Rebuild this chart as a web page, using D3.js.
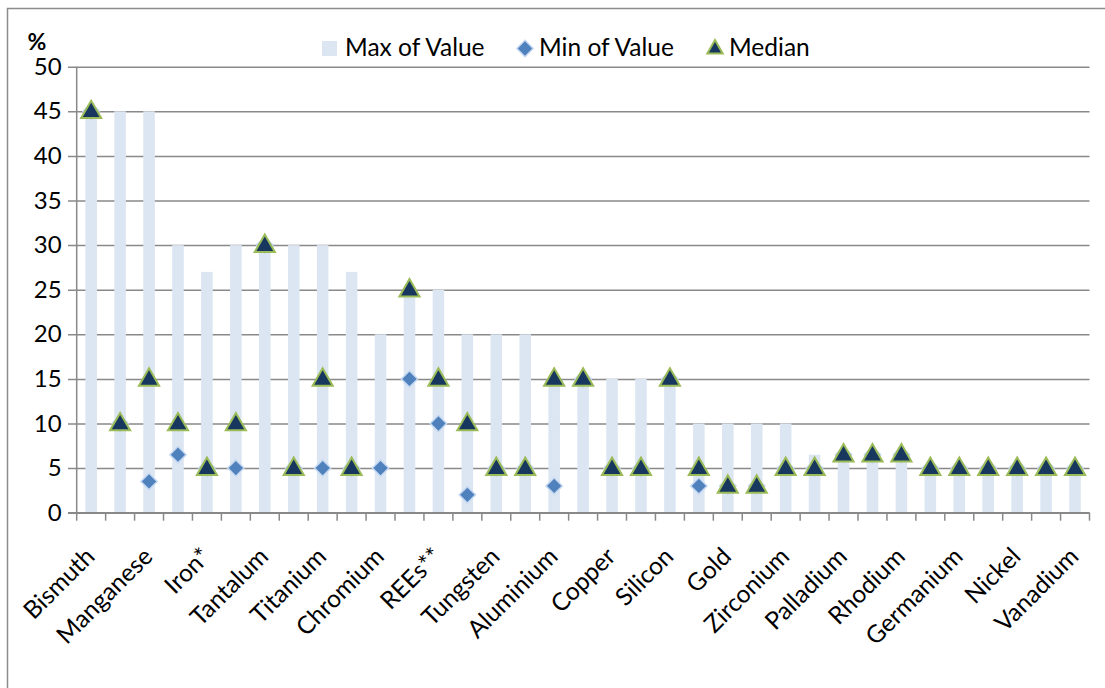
<!DOCTYPE html>
<html>
<head>
<meta charset="utf-8">
<script src="https://cdn.jsdelivr.net/npm/d3@7/dist/d3.min.js"></script>
<style>
  html, body { margin: 0; padding: 0; background: #ffffff; }
  svg { display: block; }
  text { font-family: Lato, "Liberation Sans", sans-serif; fill: #000; }
</style>
</head>
<body>
<svg id="chart" width="1105" height="688"></svg>
<script>
// Category labels (every other category carries a visible label)
const categories = [
  "Bismuth", "", "Manganese", "", "Iron*", "", "Tantalum", "", "Titanium", "",
  "Chromium", "", "REEs**", "", "Tungsten", "", "Aluminium", "", "Copper", "",
  "Silicon", "", "Gold", "", "Zirconium", "", "Palladium", "", "Rhodium", "",
  "Germanium", "", "Nickel", "", "Vanadium"
];

// Series values (%)
const maxValues = [
  45, 45, 45, 30, 27, 30, 30, 30, 30, 27,
  20, 25, 25, 20, 20, 20, 15, 15, 15, 15,
  15, 10, 10, 10, 10, 6.5, 6.5, 6.5, 6.5, 5,
  5, 5, 5, 5, 5
];
const minValues = [
  45, 10, 3.5, 6.5, 5, 5, 30, 5, 5, 5,
  5, 15, 10, 2, 5, 5, 3, 15, 5, 5,
  15, 3, 3, 3, 5, 5, 6.5, 6.5, 6.5, 5,
  5, 5, 5, 5, 5
];
const medianValues = [
  45, 10, 15, 10, 5, 10, 30, 5, 15, 5,
  null, 25, 15, 10, 5, 5, 15, 15, 5, 5,
  15, 5, 3, 3, 5, 5, 6.5, 6.5, 6.5, 5,
  5, 5, 5, 5, 5
];

const yTicks = [0, 5, 10, 15, 20, 25, 30, 35, 40, 45, 50];
const legendLabels = ["Max of Value", "Min of Value", "Median"];

const colors = {
  bar: "#dce6f2",
  diamond: "#4f81bd",
  diamondGlow: "#c6d9f1",
  triangle: "#17375e",
  triangleStroke: "#9bbb59",
  grid: "#898989",
  border: "#8c8c8c"
};

const svg = d3.select("#chart");
const plot = { left: 76.7, right: 1089.5, top: 66.7, bottom: 512.7 };

const idx = d3.range(categories.length);
const x = d3.scaleBand().domain(idx).range([plot.left, plot.right])
  .paddingInner(0.6).paddingOuter(0.3);
const y = d3.scaleLinear().domain([0, 50]).range([plot.bottom, plot.top]);
const step = x.step();
const cx = i => x(i) + x.bandwidth() / 2;

// Outer chart frame
svg.append("rect")
  .attr("x", 7.5).attr("y", 8.5)
  .attr("width", 1200).attr("height", 800)
  .attr("fill", "none").attr("stroke", colors.border).attr("stroke-width", 1.5);

// Y axis with gridlines
const yAxis = d3.axisLeft(y).tickValues(yTicks).tickSize(-(plot.right - plot.left)).tickPadding(15);
const gy = svg.append("g").attr("transform", `translate(${plot.left},0)`).call(yAxis);
gy.select(".domain").remove();
gy.selectAll(".tick line").attr("stroke", colors.grid).attr("stroke-width", 1.5).attr("x1", -8.7);
gy.selectAll(".tick text")
  .style("font-family", "Lato, sans-serif").style("font-size", "24px").attr("fill", "#000");

// Y axis line
svg.append("line")
  .attr("x1", plot.left).attr("x2", plot.left)
  .attr("y1", plot.top).attr("y2", plot.bottom)
  .attr("stroke", colors.grid).attr("stroke-width", 1.5);

// Unit label
svg.append("text")
  .attr("x", 37).attr("y", 50)
  .attr("text-anchor", "middle")
  .style("font-size", "23px").style("font-weight", "bold")
  .text("%");

// Max bars
svg.append("g").selectAll("rect").data(idx).join("rect")
  .attr("x", i => x(i)).attr("width", x.bandwidth())
  .attr("y", i => y(maxValues[i]))
  .attr("height", i => y(0) - y(maxValues[i]))
  .attr("fill", colors.bar);

// X axis line and boundary ticks
svg.append("line")
  .attr("x1", plot.left - 8.7).attr("x2", plot.right)
  .attr("y1", plot.bottom).attr("y2", plot.bottom)
  .attr("stroke", colors.grid).attr("stroke-width", 1.5);
svg.append("g").selectAll("line").data(d3.range(categories.length + 1)).join("line")
  .attr("x1", k => plot.left + k * step).attr("x2", k => plot.left + k * step)
  .attr("y1", plot.bottom).attr("y2", plot.bottom + 8)
  .attr("stroke", colors.grid).attr("stroke-width", 1.5);

// Category labels, rotated
svg.append("g").selectAll("text").data(idx.filter(i => categories[i] !== "")).join("text")
  .attr("transform", i => `translate(${cx(i) + 5},${558}) rotate(-45)`)
  .attr("text-anchor", "end")
  .style("font-size", "24.5px")
  .text(i => categories[i]);

// Diamond and triangle symbols
const diamond = d3.symbol().type(d3.symbolDiamond2).size(130);
const triangle = d3.symbol().type(d3.symbolTriangle2).size(290);

svg.append("g").selectAll("path").data(idx.filter(i => minValues[i] != null)).join("path")
  .attr("d", diamond)
  .attr("transform", i => `translate(${cx(i)},${y(minValues[i])})`)
  .attr("fill", colors.diamond)
  .attr("stroke", colors.diamondGlow).attr("stroke-width", 3)
  .attr("paint-order", "stroke");

svg.append("g").selectAll("path").data(idx.filter(i => medianValues[i] != null)).join("path")
  .attr("d", triangle)
  .attr("transform", i => `translate(${cx(i)},${y(medianValues[i]) + 1})`)
  .attr("fill", colors.triangle)
  .attr("stroke", colors.triangleStroke).attr("stroke-width", 2);

// Legend
const legend = svg.append("g");
legend.append("rect").attr("x", 322).attr("y", 41).attr("width", 15).attr("height", 15).attr("fill", colors.bar);
legend.append("text").attr("x", 345).attr("y", 56).style("font-size", "24.5px").text(legendLabels[0]);
legend.append("path").attr("d", diamond).attr("transform", "translate(525,48.5)")
  .attr("fill", colors.diamond).attr("stroke", colors.diamondGlow).attr("stroke-width", 3)
  .attr("paint-order", "stroke");
legend.append("text").attr("x", 539).attr("y", 56).style("font-size", "24.5px").text(legendLabels[1]);
legend.append("path").attr("d", d3.symbol().type(d3.symbolTriangle2).size(170)).attr("transform", "translate(715,49)")
  .attr("fill", colors.triangle).attr("stroke", colors.triangleStroke).attr("stroke-width", 2);
legend.append("text").attr("x", 729).attr("y", 56).style("font-size", "24.5px").text(legendLabels[2]);
</script>
</body>
</html>
